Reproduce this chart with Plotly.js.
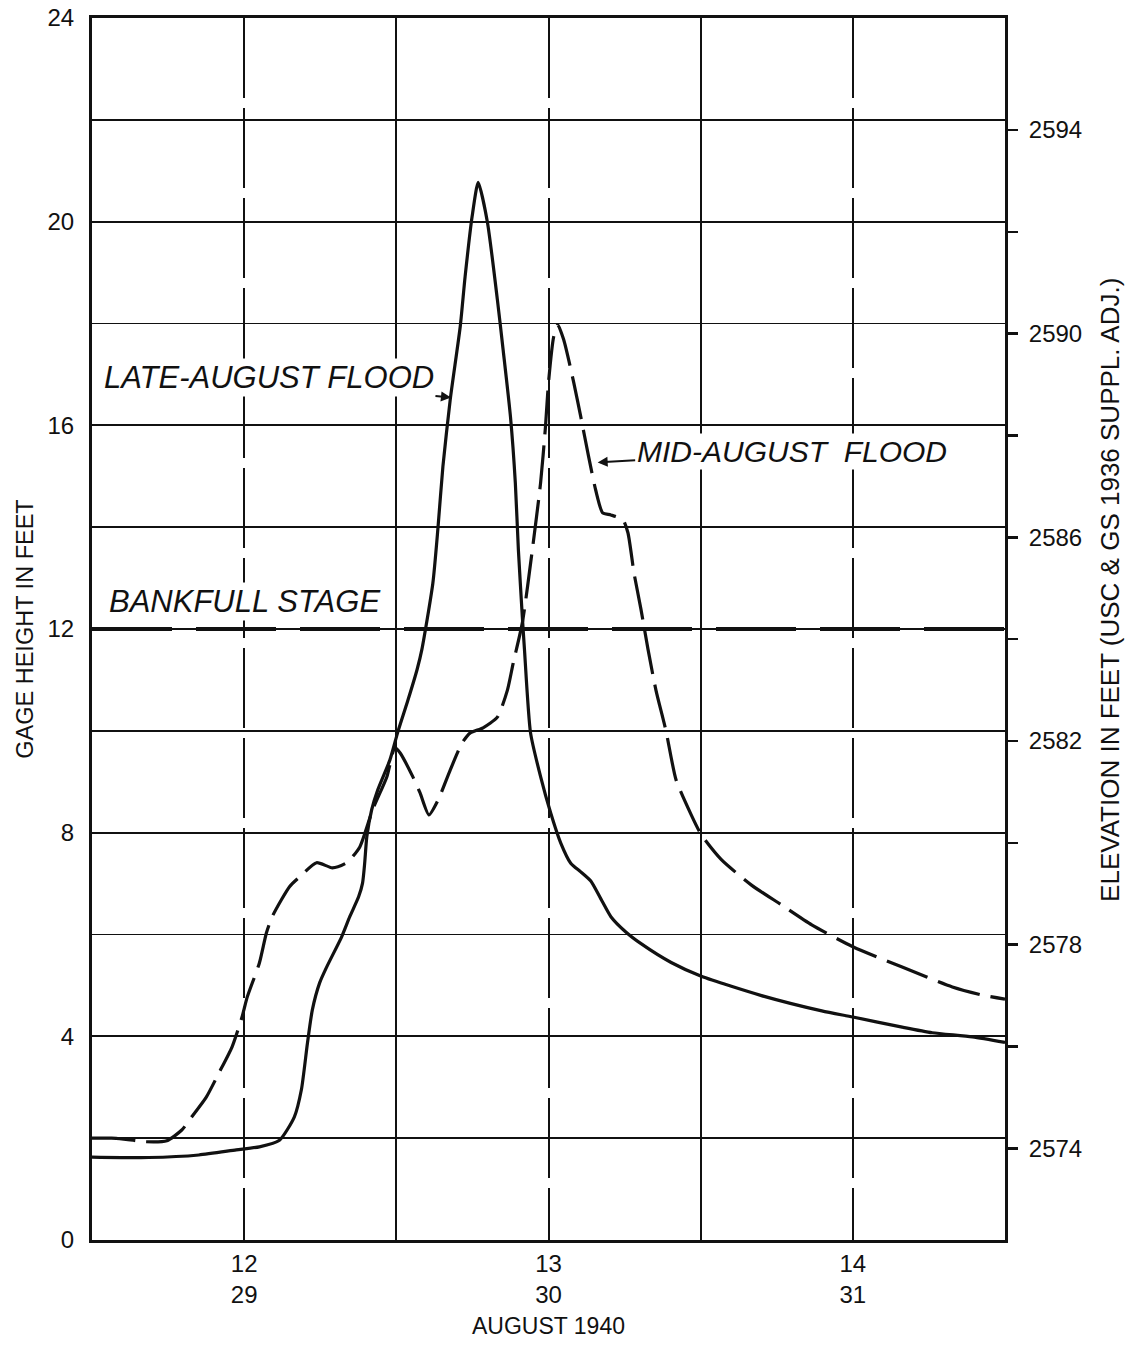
<!DOCTYPE html>
<html>
<head>
<meta charset="utf-8">
<script src="https://cdn.plot.ly/plotly-3.0.1.min.js"></script>
<style>
  html, body { margin: 0; padding: 0; background: #fff; }
  #chart { width: 1137px; height: 1346px; }
</style>
</head>
<body>
<div id="chart"></div>
<script>
// ---- Data ----
// Common time axis: day of month for the mid-August flood (12-14);
// the late-August flood is aligned on the same axis (29-31).
const dayTickVals = [12, 13, 14];
const midAugustDayLabels = ['12', '13', '14'];
const lateAugustDayLabels = ['29', '30', '31'];
const halfDayGridVals = [12.5, 13.5];

// Late-August flood (solid line): time (axis days) and gage height (ft)
const lateAugustTime = [11.495, 11.686, 11.851, 11.974, 12.05, 12.116, 12.165, 12.188, 12.208, 12.224,
  12.248, 12.271, 12.32, 12.347, 12.376, 12.389, 12.396, 12.403, 12.419, 12.439,
  12.479, 12.505, 12.538, 12.568, 12.584, 12.62, 12.637, 12.653, 12.677, 12.71,
  12.726, 12.749, 12.769, 12.799, 12.832, 12.851, 12.875, 12.891, 12.901, 12.914,
  12.921, 12.941, 12.974, 13.007, 13.04, 13.073, 13.106, 13.139, 13.172, 13.205,
  13.254, 13.304, 13.403, 13.502, 13.7, 13.898, 14.0, 14.162, 14.261, 14.393, 14.5];
const lateAugustGage = [1.63, 1.62, 1.67, 1.77, 1.83, 1.96, 2.42, 2.95, 3.87, 4.52,
  5.05, 5.36, 5.95, 6.35, 6.74, 7.01, 7.4, 7.92, 8.45, 8.84,
  9.43, 9.98, 10.6, 11.2, 11.6, 12.9, 14.0, 15.19, 16.5, 17.94,
  18.92, 20.1, 20.77, 20.0, 18.47, 17.48, 16.17, 14.87, 13.56, 12.24,
  11.6, 9.96, 9.1, 8.39, 7.8, 7.4, 7.23, 7.05, 6.7, 6.35,
  6.05, 5.82, 5.45, 5.18, 4.8, 4.5, 4.38, 4.18, 4.07, 3.99, 3.88];

// Mid-August flood (dashed line)
const midAugustTime = [11.498, 11.564, 11.604, 11.677, 11.746, 11.795, 11.828, 11.875, 11.917, 11.96,
  11.993, 12.01, 12.05, 12.073, 12.092, 12.149, 12.182, 12.238, 12.29, 12.337,
  12.38, 12.422, 12.469, 12.495, 12.512, 12.554, 12.578, 12.607, 12.637, 12.677,
  12.716, 12.743, 12.785, 12.832, 12.865, 12.884, 12.914, 12.947, 12.974, 12.99,
  13.0, 13.017, 13.03, 13.05, 13.083, 13.106, 13.132, 13.155, 13.178, 13.205,
  13.244, 13.261, 13.281, 13.304, 13.327, 13.353, 13.386, 13.419, 13.469, 13.502,
  13.568, 13.667, 13.766, 13.865, 14.0, 14.162, 14.327, 14.426, 14.5];
const midAugustGage = [2.0, 2.0, 1.98, 1.93, 1.95, 2.16, 2.42, 2.8, 3.28, 3.79,
  4.38, 4.77, 5.44, 6.03, 6.35, 6.94, 7.13, 7.41, 7.31, 7.41,
  7.72, 8.45, 9.1, 9.67, 9.57, 9.1, 8.78, 8.35, 8.64, 9.23,
  9.76, 9.96, 10.06, 10.27, 10.8, 11.33, 12.12, 13.56, 14.87, 15.97,
  16.84, 17.74, 17.98, 17.68, 16.84, 16.17, 15.38, 14.73, 14.28, 14.24,
  14.15, 13.89, 13.1, 12.38, 11.6, 10.8, 10.0, 9.04, 8.35, 7.96,
  7.47, 6.97, 6.58, 6.19, 5.76, 5.36, 4.97, 4.81, 4.73];

const bankfullStage = 12;          // ft gage height
const gageDatumElevation = 2572.2; // elevation (ft) of gage zero
const gageTickVals = [0, 2, 4, 6, 8, 10, 12, 14, 16, 18, 20, 22, 24];
const gageTickLabels = ['0', '', '4', '', '8', '', '12', '', '16', '', '20', '', '24'];
const elevTickVals = [2574, 2576, 2578, 2580, 2582, 2584, 2586, 2588, 2590, 2592, 2594];
const elevTickLabels = ['2574', '', '2578', '', '2582', '', '2586', '', '2590', '', '2594'];

const timeRange = [11.5, 14.5];
const gageRange = [0, 24];

// ---- Chart ----
const FONT = '"Liberation Sans", Arial, "DejaVu Sans", sans-serif';
const INK = '#111';

const traces = [
  {
    x: timeRange, y: [bankfullStage, bankfullStage], xaxis: 'x2', yaxis: 'y',
    mode: 'lines', line: {color: INK, width: 4, dash: '80px,24px'},
    hoverinfo: 'skip', showlegend: false
  },
  {
    x: midAugustTime, y: midAugustGage, xaxis: 'x', yaxis: 'y',
    mode: 'lines', line: {color: INK, width: 3.2, dash: '44px,11px', shape: 'spline', smoothing: 0.6},
    name: 'Mid-August flood', showlegend: false
  },
  {
    x: lateAugustTime, y: lateAugustGage, xaxis: 'x', yaxis: 'y',
    mode: 'lines', line: {color: INK, width: 3.2, shape: 'spline', smoothing: 0.6},
    name: 'Late-August flood', showlegend: false
  },
  {
    x: lateAugustTime, y: lateAugustGage.map(g => g + gageDatumElevation), xaxis: 'x', yaxis: 'y2',
    mode: 'lines', line: {color: 'rgba(0,0,0,0)', width: 0},
    hoverinfo: 'skip', showlegend: false
  }
];

const layout = {
  width: 1137, height: 1346,
  margin: {l: 92, r: 132, t: 18, b: 106},
  paper_bgcolor: '#fff', plot_bgcolor: '#fff',
  font: {family: FONT, size: 24, color: INK},
  showlegend: false,
  xaxis: {
    range: timeRange, tickmode: 'array', tickvals: dayTickVals,
    ticktext: dayTickVals.map((d, i) => midAugustDayLabels[i] + '<br>' + lateAugustDayLabels[i]),
    showgrid: true, gridcolor: INK, gridwidth: 2, griddash: '80px,10px',
    zeroline: false, showline: true, linecolor: INK, linewidth: 3, mirror: true,
    ticks: '', ticklabelstandoff: 0,
    tickfont: {family: FONT, size: 24, color: INK},
    title: {text: 'AUGUST 1940', font: {family: FONT, size: 23, color: INK}, standoff: 11},
    automargin: false
  },
  xaxis2: {
    overlaying: 'x', range: timeRange, tickmode: 'array', tickvals: halfDayGridVals,
    showticklabels: false, ticks: '',
    showgrid: true, gridcolor: INK, gridwidth: 2, zeroline: false, showline: false,
    automargin: false
  },
  yaxis: {
    range: gageRange, tickmode: 'array', tickvals: gageTickVals, ticktext: gageTickLabels,
    showgrid: true, gridcolor: INK, gridwidth: 1.8,
    zeroline: false, showline: true, linecolor: INK, linewidth: 3, mirror: true,
    ticks: '', ticklabelstandoff: 10,
    tickfont: {family: FONT, size: 24, color: INK},
    title: {text: 'GAGE HEIGHT IN FEET', font: {family: FONT, size: 23.5, color: INK}, standoff: 8},
    automargin: false
  },
  yaxis2: {
    overlaying: 'y', side: 'right', anchor: 'x',
    range: [gageRange[0] + gageDatumElevation, gageRange[1] + gageDatumElevation],
    tickmode: 'array', tickvals: elevTickVals, ticktext: elevTickLabels,
    ticks: 'outside', ticklen: 12, tickwidth: 2.5, tickcolor: INK,
    showgrid: false, zeroline: false, showline: false,
    tickfont: {family: FONT, size: 24, color: INK}, ticklabelstandoff: 6,
    automargin: false
  },
  annotations: [
    {
      xref: 'paper', yref: 'paper', x: 1.115, y: 0.532, textangle: -90,
      text: 'ELEVATION IN FEET (USC &amp; GS 1936 SUPPL. ADJ.)', showarrow: false,
      font: {family: FONT, size: 26, color: INK}, xanchor: 'center', yanchor: 'middle'
    },
    {
      x: 12.686, y: 16.54, xref: 'x', yref: 'y',
      text: '<i>LATE-AUGUST FLOOD</i>', font: {family: FONT, size: 31, color: INK},
      bgcolor: '#fff', borderpad: 1,
      showarrow: true, arrowhead: 2, arrowsize: 1, arrowwidth: 2, arrowcolor: INK,
      ax: -184, ay: -20, standoff: 2
    },
    {
      x: 13.155, y: 15.27, xref: 'x', yref: 'y',
      text: '<i>MID-AUGUST\u00a0\u00a0FLOOD</i>', font: {family: FONT, size: 30, color: INK},
      bgcolor: '#fff', borderpad: 1,
      showarrow: true, arrowhead: 2, arrowsize: 1, arrowwidth: 2, arrowcolor: INK,
      ax: 196, ay: -11, standoff: 2
    },
    {
      x: 11.548, y: bankfullStage, xref: 'x', yref: 'y', xanchor: 'left', yanchor: 'bottom',
      yshift: 8, text: '<i>BANKFULL STAGE</i>', showarrow: false,
      bgcolor: '#fff', borderpad: 1,
      font: {family: FONT, size: 31, color: INK}
    }
  ]
};

Plotly.newPlot('chart', traces, layout, {staticPlot: true, displayModeBar: false});
</script>
</body>
</html>
